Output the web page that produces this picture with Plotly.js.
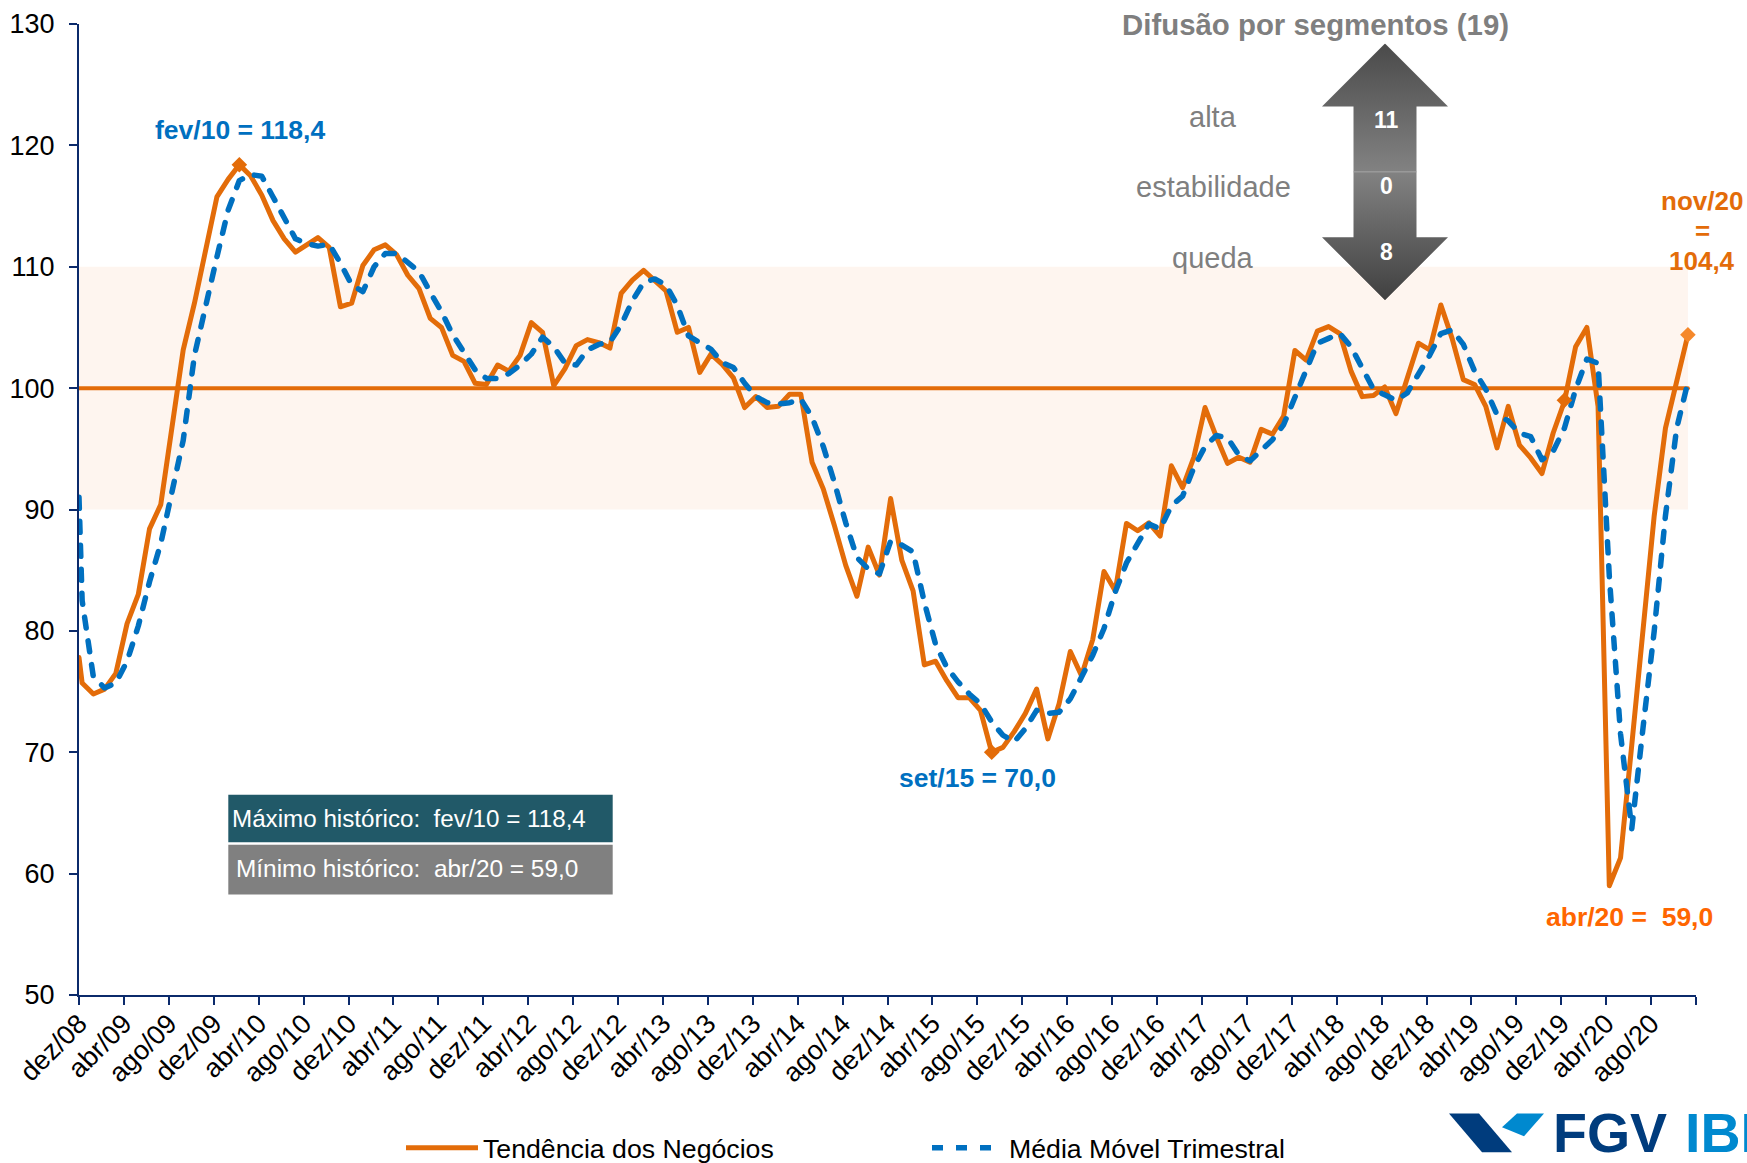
<!DOCTYPE html>
<html><head><meta charset="utf-8">
<script src="https://cdn.plot.ly/plotly-3.0.1.min.js"></script>
<style>
html,body{margin:0;padding:0;background:#fff;overflow:hidden}
#chart{width:1747px;height:1163px}
.scatterlayer .js-line{stroke-linecap:round;stroke-linejoin:round}
</style></head><body><div id="chart"></div>
<script>
// The first value of each series is the height at which the line leaves the y axis; then dez/08 to nov/20
const tendencia = [77.8,
75.7,74.8,75.2,76.5,80.6,83,88.4,90.4,96.8,103.15,107,111.4,115.75,117.2,118.4,117.5,115.9,113.8,112.3,111.2,111.8,112.4,111.6,106.7,107,110.1,111.4,111.8,111,109.3,108.2,105.75,105,102.7,102.2,100.4,100.3,101.9,101.4,102.7,105.4,104.6,100.2,101.6,103.5,104,103.75,103.3,107.8,108.9,109.7,108.9,108,104.6,105,101.3,102.8,101.95,100.85,98.4,99.3,98.4,98.5,99.5,99.5,93.9,91.7,88.65,85.4,82.85,86.9,84.6,90.9,85.8,83.3,77.2,77.5,75.9,74.5,74.5,73.45,70,70.4,71.7,73.2,75.2,71.1,74,78.3,76.3,79.3,84.9,83.3,88.85,88.25,88.9,87.8,93.6,91.8,94.3,98.4,96,93.8,94.3,93.9,96.6,96.2,97.7,103.1,102.3,104.7,105.07,104.5,101.4,99.3,99.4,100.1,97.9,100.7,103.7,103.15,106.85,104.1,100.7,100.3,98.5,95.07,98.5,95.3,94.25,92.96,96.3,98.9,103.4,105,98.5,59,61.3,70.6,80.5,89.5,96.7,100.7,104.4];
const mediaMovel = [91,
82.5,76.2,75.3,75.7,77.5,80.4,84.05,87.2,91.6,95.7,102.7,107,110.8,114.66,117.1,117.6,117.45,115.75,114,112.3,111.9,111.7,111.85,110.3,108.5,107.95,110,111.1,111.1,110.3,109.6,107.9,106.3,104.4,102.9,101.5,100.8,100.8,101.2,101.9,102.8,104.2,103.4,102.05,101.9,103.15,103.6,103.8,105.2,107.2,108.7,109,108.5,106.8,104.3,103.7,103.2,102.1,101.7,100.4,99.3,98.8,98.7,98.8,99.1,97.6,95.2,92.2,88.9,86.05,85.1,84.7,87.4,87.07,86.5,82.35,78.9,77,75.8,74.8,74,72.5,71.4,70.85,71.95,73.45,73.2,73.3,74.4,76.2,78,80.2,83.2,85.6,87.3,88.8,88.4,90.3,91.1,93.45,95.2,96.1,95.9,94.5,94,94.9,95.75,97,99.3,101.6,103.7,104.1,104.5,103.4,101.6,99.9,99.45,99,99.6,101.1,102.7,104.5,104.8,103.6,101.4,99.9,97.8,97.3,96.3,96,94.1,94.8,96.7,99.9,102.4,102.05,84.5,71.5,63.7,72,80,89.5,96.7,100.5];
const X0 = -0.28;
const meses = tendencia.map((_, i) => i === 0 ? X0 : i - 1);
const tickLabels = ["dez/08","abr/09","ago/09","dez/09","abr/10","ago/10","dez/10","abr/11","ago/11","dez/11","abr/12","ago/12","dez/12","abr/13","ago/13","dez/13","abr/14","ago/14","dez/14","abr/15","ago/15","dez/15","abr/16","ago/16","dez/16","abr/17","ago/17","dez/17","abr/18","ago/18","dez/18","abr/19","ago/19","dez/19","abr/20","ago/20",""];
const tickPositions = tickLabels.map((_, i) => i * 4 + X0);
const refX = [X0, 143];
const refY = [100, 100];
const destaqueX = [14, 81, 132, 143];
const destaqueY = [118.4, 70, 99, 104.4];
const destaqueCor = ["#E36C09","#E36C09","#E36C09","#F5882B"];

const W=1747,H=1163,L=79,R=1696,T=23.5,B=995.5;
const px=x=>(x-L)/(R-L), py=y=>(B-y)/(B-T);
const FONT='"Liberation Sans", Arial, sans-serif';
const ann=(text,x,y,size,color,bold,anchor)=>({text:bold?'<b>'+text+'</b>':text,xref:'paper',yref:'paper',x:px(x),y:py(y),
  xanchor:anchor||'center',yanchor:'middle',showarrow:false,font:{family:FONT,size:size,color:color}});
const poly=(pts,fill)=>({type:'path',xref:'paper',yref:'paper',layer:'above',fillcolor:fill,line:{width:0},
  path:'M'+pts.map(p=>px(p[0])+','+py(p[1])).join('L')+'Z'});
const box=(x0,y0,x1,y1,fill)=>({type:'rect',xref:'paper',yref:'paper',layer:'above',x0:px(x0),x1:px(x1),y0:py(y0),y1:py(y1),fillcolor:fill,line:{width:0}});

const arrowSvg=`<svg xmlns="http://www.w3.org/2000/svg" width="126" height="257" viewBox="0 0 126 257"><defs><linearGradient id="g" x1="0" y1="0" x2="0" y2="1"><stop offset="0" stop-color="#4a4a4a"/><stop offset="0.5" stop-color="#828282"/><stop offset="1" stop-color="#404040"/></linearGradient></defs><path d="M63 0L126 63H94.5V194H126L63 257L0 194H31.5V63H0Z" fill="url(#g)"/><rect x="31.5" y="128" width="63" height="1" fill="#a6a6a6"/></svg>`;

const traces=[
 {x:refX,y:refY,mode:'lines',line:{color:'#E36C09',width:4},showlegend:false,hoverinfo:'skip'},
 {x:meses,y:tendencia,name:'Tendência dos Negócios',mode:'lines',line:{color:'#E36C09',width:5}},
 {x:meses,y:mediaMovel,name:'Média Móvel Trimestral',mode:'lines',line:{color:'#0070C0',width:5.5,dash:'11px,13px'}},
 {x:destaqueX,y:destaqueY,mode:'markers',marker:{symbol:'diamond',size:12,color:destaqueCor},showlegend:false,hoverinfo:'skip'}
];
const layout={
 width:W,height:H,margin:{l:L,r:W-R,t:T,b:H-B,pad:0},paper_bgcolor:'#fff',plot_bgcolor:'#fff',
 font:{family:FONT,size:25,color:'#000'},
 xaxis:{range:[X0,144+X0],tickmode:'array',tickvals:tickPositions,ticktext:tickLabels,tickangle:-45,ticks:'outside',ticklen:8,tickwidth:2,tickcolor:'#0B2A6B',ticklabelstandoff:-8,
  showline:true,linecolor:'#0B2A6B',linewidth:2,showgrid:false,zeroline:false,tickfont:{size:27}},
 yaxis:{range:[50,130],dtick:10,ticks:'outside',ticklen:8,tickwidth:2,tickcolor:'#0B2A6B',ticklabelstandoff:9,showline:true,linecolor:'#0B2A6B',linewidth:2,showgrid:false,zeroline:false,tickfont:{size:27}},
 legend:{orientation:'h',xref:'container',yref:'container',x:401/W,y:(H-1148)/H,xanchor:'left',yanchor:'middle',itemwidth:72,entrywidth:439,font:{size:26.7,color:'#000'},bgcolor:'rgba(0,0,0,0)',itemclick:false,itemdoubleclick:false},
 shapes:[
  {type:'rect',xref:'x',yref:'y',layer:'below',x0:X0,x1:143,y0:90,y1:110,fillcolor:'#FEF5EF',line:{width:0}},
  box(228.3,795,612.7,842.7,'#215968'),
  box(228.3,845,612.7,895,'#808080'),
  poly([[1449,1114],[1479,1114],[1512,1153],[1482,1153]],'#003C7D'),
  poly([[1502,1128],[1517,1114],[1544,1114],[1524,1137]],'#0089CF')
 ],
 images:[{source:'data:image/svg+xml;base64,'+btoa(arrowSvg),xref:'paper',yref:'paper',x:px(1322),y:py(43),sizex:px(1448)-px(1322),sizey:py(43)-py(300),sizing:'stretch',xanchor:'left',yanchor:'top',layer:'above'}],
 annotations:[
  ann('fev/10 = 118,4',240,130,26.5,'#0070C0',true),
  ann('set/15 = 70,0',977,778,26.5,'#0070C0',true),
  ann('abr/20 =  59,0',1629,917,26.5,'#FF6600',true),
  ann('nov/20',1702,201,26,'#E36C09',true),
  ann('=',1702,231,26,'#E36C09',true),
  ann('104,4',1702,261,26,'#E36C09',true),
  ann('Difusão por segmentos (19)',1315,24.5,29.4,'#7F7F7F',true),
  ann('alta',1213,117,29,'#7F7F7F',false),
  ann('estabilidade',1213,187,29,'#7F7F7F',false),
  ann('queda',1213,258,29,'#7F7F7F',false),
  ann('11',1386,120,23,'#fff',true),
  ann('0',1386,186,23,'#fff',true),
  ann('8',1386,252,23,'#fff',true),
  ann('Máximo histórico:  fev/10 = 118,4',230,819,24.2,'#fff',false,'left'),
  ann('Mínimo histórico:  abr/20 = 59,0',234,869,24.4,'#fff',false,'left'),
  ann('FGV',1551,1134,55.5,'#003C7D',true,'left'),
  ann('IBRE',1683,1134,55.5,'#0089CF',true,'left')
 ]
};
Plotly.newPlot('chart',traces,layout,{displayModeBar:false,responsive:false});
</script></body></html>
